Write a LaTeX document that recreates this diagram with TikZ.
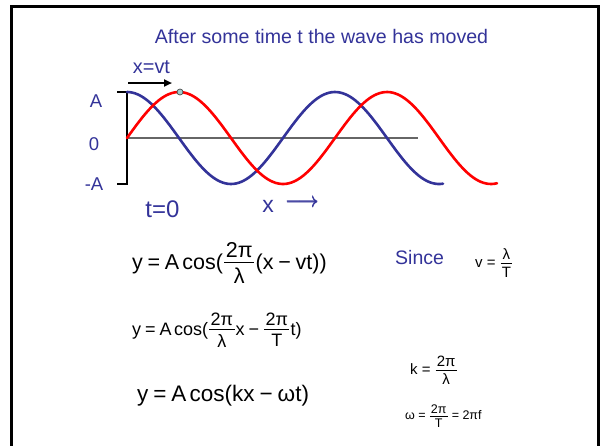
\documentclass[tikz,border=0pt]{standalone}
\usepackage{fontspec}
\setmainfont{Liberation Sans}
\usetikzlibrary{arrows.meta}
\definecolor{wblue}{RGB}{51,51,153}
\definecolor{wred}{RGB}{255,0,0}
\definecolor{dotfill}{RGB}{160,205,205}
\newsavebox\frnum
\newsavebox\frden
\newlength\frw
\newcommand\fr[2]{%
  \sbox\frnum{#1}\sbox\frden{#2}%
  \setlength\frw{\wd\frnum}%
  \ifdim\wd\frden>\frw \setlength\frw{\wd\frden}\fi
  \addtolength\frw{0.16em}%
  \hspace{0.06em}%
  \raisebox{0.3em}{%
    \rlap{\raisebox{0.24em}{\makebox[\frw]{\usebox\frnum}}}%
    \rlap{\raisebox{-0.35pt}{\rule{\frw}{0.7pt}}}%
    \raisebox{-\dimexpr0.26em+\ht\frden\relax}{\makebox[\frw]{\usebox\frden}}}%
  \hspace{0.06em}}
\newcommand\fs[1]{\fontsize{#1}{#1}\selectfont}
\newcommand\ts{\hspace{0.22em}}
\newcommand\ac{A\hspace{0.14em}cos}
\newcommand\thickarrow{\rlap{$\longrightarrow$}\rlap{\raisebox{0.4pt}{$\longrightarrow$}}\hspace{0.4pt}$\longrightarrow$}
\begin{document}
\begin{tikzpicture}[x=1pt,y=-1pt,
  lbl/.style={inner sep=0pt, text=wblue, anchor=base},
  eq/.style={inner sep=0pt, anchor=base west},
  wave/.style={line width=2.6pt, line join=round, line cap=round}]
\useasboundingbox (0,0) rectangle (600,445);
\draw[line width=3pt] (11.5,6) rectangle (598.5,470);
% title
\node[lbl, font=\fs{19.6}] (title) at (321.5,43) {After some time t the wave has moved};
% axes
\draw[gray!80!black, line width=1.4pt] (127,138) -- (418,138);
\draw[line width=1.4pt] (117,92) -- (127,92) -- (127,184) -- (117,184);
\node[lbl, font=\fs{18.5}] (lA) at (96,107) {A};
\node[lbl, font=\fs{18.5}] (l0) at (94,150) {0};
\node[lbl, font=\fs{18.5}] (lmA) at (94,190) {-A};
% waves
\draw[wave, wblue, domain=127:443, samples=120, smooth] plot (\x, {138 - 46*cos(1.730769*(\x-127))});
\draw[wave, wred, domain=127:497, samples=140, smooth] plot (\x, {138 - 46*sin(1.730769*(\x-127))});
\draw[fill=dotfill, draw=black!70, line width=0.7pt] (180,92) circle (3);
% x=vt arrow
\node[lbl, font=\fs{19.9}] (xvt) at (151.5,73) {x=vt};
\draw[line width=2.4pt, -{Triangle[length=8pt,width=7pt]}] (128,83) -- (172,83);
% t=0 and x arrow
\node[lbl, font=\fs{24}] (t0) at (162.5,217) {t=0};
\node[lbl, font=\fs{23}] (xl) at (268,212) {x};
\node[inner sep=0pt, text=wblue, font=\fs{21}] (xarr) at (302,203) {\thickarrow};
% equations
\node[eq, font=\fs{21.5}] (e1) at (132,269) {y\ts=\ts\ac(\fr{2π}{λ}(x\ts−\ts vt))};
\node[eq, font=\fs{18}] (e2) at (132,335) {y\ts=\ts\ac(\fr{2π}{λ}x\ts−\ts\fr{2π}{T}t)};
\node[eq, font=\fs{22.5}] (e3) at (137,401) {y\ts=\ts\ac(kx\ts−\ts ωt)};
\node[eq, font=\fs{19.5}, text=wblue] (since) at (395,264) {Since};
\node[eq, font=\fs{15}] (veq) at (475,267.5) {v = \fr{λ}{T}};
\node[eq, font=\fs{15}] (keq) at (410,374.5) {k = \fr{2π}{λ}};
\node[eq, font=\fs{12.5}] (weq) at (405,419.8) {ω = \fr{2π}{T} = 2πf};
\end{tikzpicture}
\end{document}
